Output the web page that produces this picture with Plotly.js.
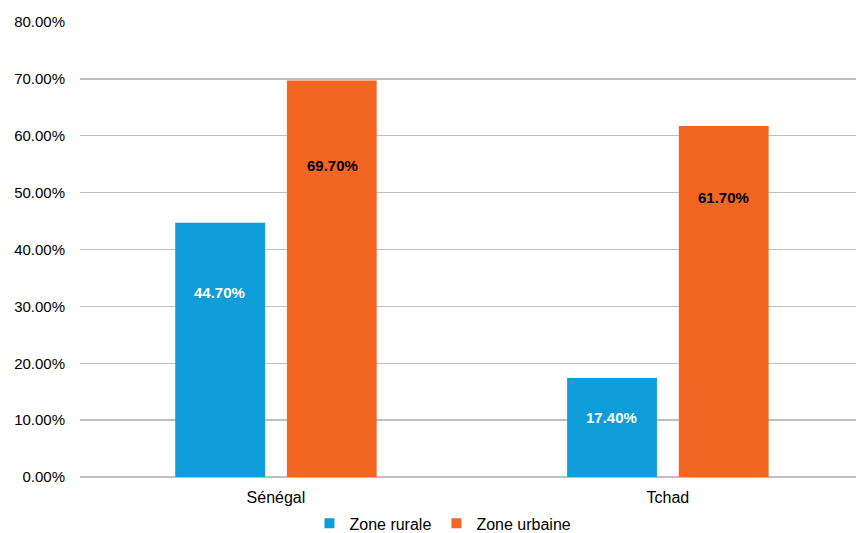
<!DOCTYPE html>
<html>
<head>
<meta charset="utf-8">
<script src="https://cdn.plot.ly/plotly-3.0.1.min.js"></script>
<style>html,body{margin:0;padding:0;background:#fff}#chart{width:856px;height:533px}</style>
</head>
<body>
<div id="chart"></div>
<script>
const categories = ["Sénégal", "Tchad"];
const seriesNames = ["Zone rurale", "Zone urbaine"];
const rurale = [0.447, 0.174];
const urbaine = [0.697, 0.617];
const yTickVals = [0, 0.1, 0.2, 0.3, 0.4, 0.5, 0.6, 0.7, 0.8];
// label anchor positions (as fraction of bar value)
const labelFracRurale = [0.727, 0.598];
const labelFracUrbaine = [0.786, 0.797];

const FONT = "Liberation Sans, Arial, sans-serif";
const blue = "#0E9DD9";
const orange = "#F26522";

const traces = [
  {type: "bar", name: seriesNames[0], x: categories, y: rurale, marker: {color: blue}, hoverinfo: "none", showlegend: false},
  {type: "bar", name: seriesNames[1], x: categories, y: urbaine, marker: {color: orange}, hoverinfo: "none", showlegend: false},
  {type: "scatter", mode: "markers", name: seriesNames[0], x: [null], y: [null], marker: {color: blue, symbol: "square", size: 10}, showlegend: true},
  {type: "scatter", mode: "markers", name: seriesNames[1], x: [null], y: [null], marker: {color: orange, symbol: "square", size: 10}, showlegend: true}
];

const annotations = [];
const fmt = v => (v * 100).toFixed(2) + "%";
categories.forEach((c, i) => {
  annotations.push({x: i - 0.143, xref: "x", y: rurale[i] * labelFracRurale[i], yref: "y",
    text: "<b>" + fmt(rurale[i]) + "</b>", showarrow: false,
    font: {family: FONT, size: 15, color: "#ffffff"}});
  annotations.push({x: i + 0.143, xref: "x", y: urbaine[i] * labelFracUrbaine[i], yref: "y",
    text: "<b>" + fmt(urbaine[i]) + "</b>", showarrow: false,
    font: {family: FONT, size: 15, color: "#000000"}});
});

const layout = {
  width: 856, height: 533,
  margin: {l: 80, r: 0, t: 22, b: 56, autoexpand: false},
  paper_bgcolor: "#fff", plot_bgcolor: "#fff",
  font: {family: FONT, size: 15, color: "#000"},
  barmode: "group",
  bargap: 0.43,
  bargroupgap: 0.196,
  showlegend: true,
  legend: {orientation: "h", xref: "container", yref: "container", x: 0.5175, xanchor: "center",
           y: 0.018, yanchor: "middle", itemwidth: 30, traceorder: "normal", tracegroupgap: 0,
           font: {family: FONT, size: 16, color: "#000"}},
  xaxis: {type: "category", range: [-0.5, 1.48], showgrid: false, zeroline: false,
          showline: false, ticks: "", ticklabelstandoff: 9,
          tickfont: {family: FONT, size: 16, color: "#000"}, fixedrange: true},
  yaxis: {range: [0, 0.8], tickvals: yTickVals, tickformat: ".2%", showgrid: true,
          gridcolor: "#BFBFBF", gridwidth: 1.3, zeroline: true, zerolinecolor: "#BFBFBF", zerolinewidth: 1.3,
          showline: false, ticks: "", ticklabelstandoff: 14,
          tickfont: {family: FONT, size: 15, color: "#000"}, fixedrange: true},
  annotations: annotations
};

Plotly.newPlot("chart", traces, layout, {displayModeBar: false, staticPlot: true});
</script>
</body>
</html>
